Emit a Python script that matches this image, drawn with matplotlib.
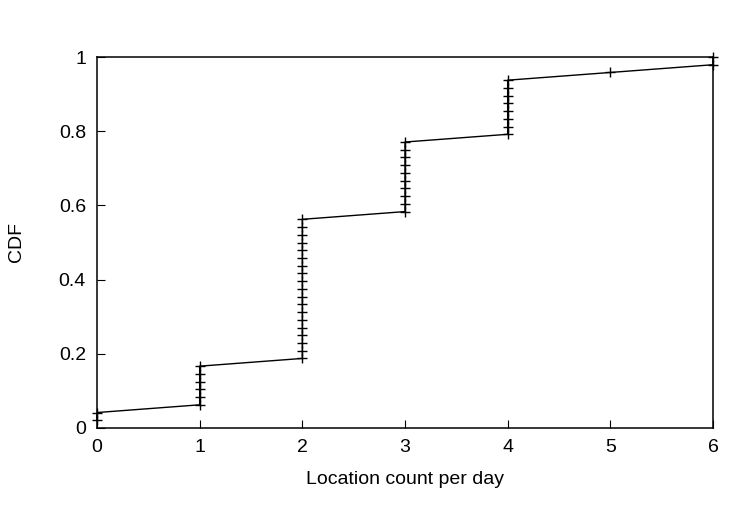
import numpy as np
import matplotlib.pyplot as plt

# location counts per day (48 samples)
count_values = [0, 1, 2, 3, 4, 5, 6]
count_freq = [2, 6, 19, 10, 8, 1, 2]

x_ticks = [0, 1, 2, 3, 4, 5, 6]
y_ticks = [0, 0.2, 0.4, 0.6, 0.8, 1]
y_tick_labels = ['0', '0.2', '0.4', '0.6', '0.8', '1']

samples = np.sort(np.repeat(count_values, count_freq))
cdf = np.arange(1, len(samples) + 1) / len(samples)

plt.rcParams['font.family'] = ['Liberation Sans', 'DejaVu Sans']

fig = plt.figure(figsize=(7.5, 5.25), dpi=100)
ax = fig.add_axes([97 / 750, 1 - 428 / 525, (713 - 97) / 750, (428 - 57) / 525])

ax.plot(samples, cdf, color='black', linewidth=1.0, marker='+',
        markersize=7, markeredgewidth=1.0, clip_on=False)

ax.set_xlim(0, 6)
ax.set_ylim(0, 1)
ax.set_xticks(x_ticks)
ax.set_yticks(y_ticks)
ax.set_yticklabels(y_tick_labels)
ax.tick_params(direction='in', length=6, width=0.8, labelsize=14, pad=8,
               top=False, right=False)
for s in ax.spines.values():
    s.set_linewidth(1.1)

ax.set_xlabel('Location count per day', fontsize=14, labelpad=11)
ax.set_ylabel('CDF', fontsize=14, labelpad=24)

fig.savefig('out.png', dpi=100)
